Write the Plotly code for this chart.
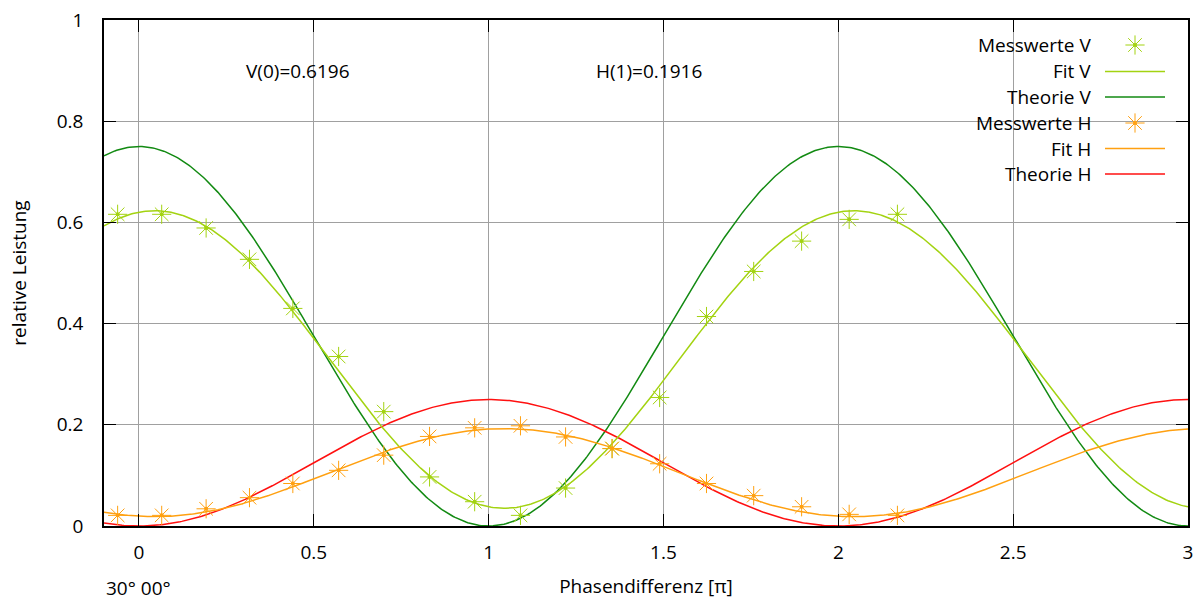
import numpy as np
import plotly.graph_objects as go

# ---------------- data ----------------
phase = [-0.061, 0.065, 0.192, 0.316, 0.440, 0.571, 0.700, 0.831, 0.960,
         1.091, 1.220, 1.353, 1.489, 1.623, 1.758, 1.895, 2.031, 2.169]
mess_v = [0.616, 0.616, 0.589, 0.527, 0.430, 0.335, 0.226, 0.097, 0.048,
          0.021, 0.075, 0.153, 0.254, 0.414, 0.503, 0.563, 0.606, 0.616]
mess_h = [0.021, 0.021, 0.034, 0.056, 0.084, 0.110, 0.140, 0.177, 0.194,
          0.198, 0.176, 0.153, 0.123, 0.084, 0.060, 0.038, 0.023, 0.021]

# fit parameters: offset, amplitude, phase shift
fit_v_params = [0.329, 0.294, 0.045]
fit_h_params = [0.1055, -0.087, 0.045]
# theory parameters
theo_v_params = [0.375, 0.375, 0.0]
theo_h_params = [0.125, -0.125, 0.0]

x_ticks = [0, 0.5, 1, 1.5, 2, 2.5, 3]
x_tick_labels = ["0", "0.5", "1", "1.5", "2", "2.5", "3"]
y_ticks = [0, 0.2, 0.4, 0.6, 0.8, 1]
y_tick_labels = ["0", "0.2", "0.4", "0.6", "0.8", "1"]

legend_names = ["Messwerte V", "Fit V", "Theorie V", "Messwerte H", "Fit H", "Theorie H"]

C_LIGHT = "#a3d311"
C_DARK = "#128a12"
C_ORANGE = "#ffa010"
C_RED = "#ff1010"
FONT = "Open Sans"
FS = 19

xs = np.linspace(-0.1, 3.0, 600)


def cosmodel(p, x):
    return p[0] + p[1] * np.cos(np.pi * (x - p[2]))


fig = go.Figure()

fig.add_trace(go.Scatter(x=xs, y=cosmodel(theo_v_params, xs), mode="lines",
                         line=dict(color=C_DARK, width=1.5), name="Theorie V"))
fig.add_trace(go.Scatter(x=xs, y=cosmodel(theo_h_params, xs), mode="lines",
                         line=dict(color=C_RED, width=1.5), name="Theorie H"))
fig.add_trace(go.Scatter(x=xs, y=cosmodel(fit_v_params, xs), mode="lines",
                         line=dict(color=C_LIGHT, width=1.5), name="Fit V"))
fig.add_trace(go.Scatter(x=xs, y=cosmodel(fit_h_params, xs), mode="lines",
                         line=dict(color=C_ORANGE, width=1.5), name="Fit H"))

for yv, col, nm in [(mess_v, C_LIGHT, "Messwerte V"), (mess_h, C_ORANGE, "Messwerte H")]:
    fig.add_trace(go.Scatter(x=phase, y=yv, mode="markers", name=nm,
                             marker=dict(symbol="asterisk-open", size=16, color=col,
                                         line=dict(color=col, width=1.0))))
    fig.add_trace(go.Scatter(x=phase, y=yv, mode="markers", showlegend=False,
                             marker=dict(symbol="circle", size=4, color=col)))

# ---------- manual legend (gnuplot style: text left, sample right) ----------
row_y = [45, 71.5, 97, 123, 148.5, 174]  # pixel rows
plot_top, plot_h = 20, 506
plot_left, plot_w = 104, 1084
def px_to_paper_x(px):
    return (px - plot_left) / plot_w
def px_to_paper_y(py):
    return 1 - (py - plot_top) / plot_h

samples = [("m", C_LIGHT), ("l", C_LIGHT), ("l", C_DARK),
           ("m", C_ORANGE), ("l", C_ORANGE), ("l", C_RED)]
annots = []
shapes = []
for nm, ry, (kind, col) in zip(legend_names, row_y, samples):
    annots.append(dict(xref="paper", yref="paper", x=px_to_paper_x(1093), y=px_to_paper_y(ry),
                       text=nm, showarrow=False, xanchor="right", yanchor="middle",
                       font=dict(family=FONT, size=FS, color="black")))
    if kind == "l":
        shapes.append(dict(type="line", xref="paper", yref="paper",
                           x0=px_to_paper_x(1105), x1=px_to_paper_x(1165),
                           y0=px_to_paper_y(ry), y1=px_to_paper_y(ry),
                           line=dict(color=col, width=1.5)))
    else:
        fig.add_trace(go.Scatter(x=[px_to_paper_x(1135)], y=[px_to_paper_y(ry)],
                                 xaxis="x2", yaxis="y2", mode="markers", showlegend=False,
                                 marker=dict(symbol="asterisk-open", size=16, color=col,
                                             line=dict(color=col, width=1.0))))
        fig.add_trace(go.Scatter(x=[px_to_paper_x(1135)], y=[px_to_paper_y(ry)],
                                 xaxis="x2", yaxis="y2", mode="markers", showlegend=False,
                                 marker=dict(symbol="circle", size=4, color=col)))

annots += [
    dict(x=0.3, y=0.9, xref="x", yref="y", text="V(0)=0.6196", showarrow=False,
         xanchor="left", yanchor="middle", font=dict(family=FONT, size=FS, color="black")),
    dict(x=1.3, y=0.9, xref="x", yref="y", text="H(1)=0.1916", showarrow=False,
         xanchor="left", yanchor="middle", font=dict(family=FONT, size=FS, color="black")),
    dict(x=0.0, y=px_to_paper_y(588), xref="paper", yref="paper", text="30° 00°", showarrow=False,
         xanchor="left", yanchor="middle", font=dict(family=FONT, size=FS, color="black")),
]

axis_common = dict(showline=True, linecolor="black", linewidth=1.5, mirror="ticks",
                   ticks="inside", ticklen=12, tickcolor="black", tickwidth=1,
                   showgrid=True, gridcolor="#a0a0a0", gridwidth=1, zeroline=False,
                   automargin=False,
                   tickfont=dict(family=FONT, size=FS, color="black"))

fig.update_layout(
    width=1196, height=600,
    margin=dict(l=104, r=8, t=20, b=74),
    paper_bgcolor="white", plot_bgcolor="white",
    showlegend=False,
    font=dict(family=FONT, size=FS, color="black"),
    xaxis=dict(range=[-0.1, 3.0], tickvals=x_ticks, ticktext=x_tick_labels,
               ticklabelstandoff=8,
               title=dict(text="Phasendifferenz [π]", standoff=16,
                          font=dict(family=FONT, size=FS)),
               **axis_common),
    yaxis=dict(range=[0, 1], tickvals=y_ticks, ticktext=y_tick_labels,
               ticklabelstandoff=15,
               title=dict(text="relative Leistung", standoff=25,
                          font=dict(family=FONT, size=FS)),
               **axis_common),
    xaxis2=dict(overlaying="x", range=[0, 1], visible=False),
    yaxis2=dict(overlaying="y", range=[0, 1], visible=False),
    annotations=annots,
    shapes=shapes,
)

fig.write_html("out.html", config={"displayModeBar": False},
               post_script="document.body.style.margin='0px';document.body.style.padding='0px';")
